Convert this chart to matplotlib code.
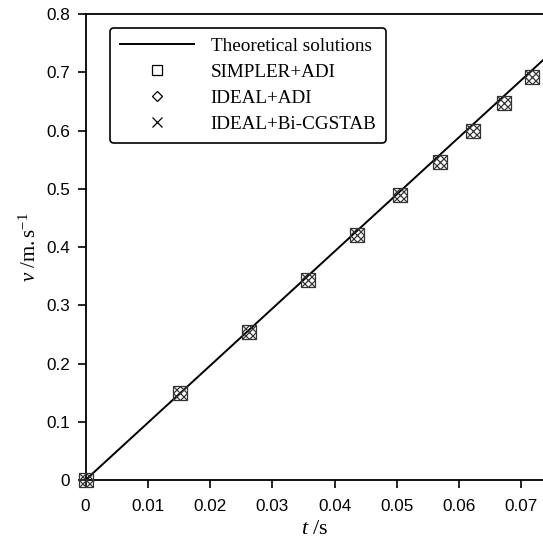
import numpy as np
import matplotlib
matplotlib.use('Agg')
import matplotlib.pyplot as plt
from matplotlib.lines import Line2D

plt.rc('font', family='Liberation Sans', size=12.3)
plt.rc('mathtext', fontset='custom', rm='Liberation Serif',
       it='Liberation Serif:italic')

# Solución teórica (caída libre, v = g t) y resultados numéricos
t_teo = [0.0, 0.08]
v_teo = [0.0, 0.785]

t_num = [0.0, 0.0152, 0.0262, 0.0357, 0.0436, 0.0506, 0.0570, 0.0623, 0.0672, 0.0717]
v_num = [0.0, 0.149, 0.254, 0.344, 0.421, 0.489, 0.547, 0.600, 0.648, 0.693]

etiquetas = ['Theoretical solutions', 'SIMPLER+ADI', 'IDEAL+ADI', 'IDEAL+Bi-CGSTAB']
xticks = [0, 0.01, 0.02, 0.03, 0.04, 0.05, 0.06, 0.07]
yticks = [0, 0.1, 0.2, 0.3, 0.4, 0.5, 0.6, 0.7, 0.8]

fig = plt.figure(figsize=(5.43, 5.45), dpi=100)
ax = fig.add_axes([0.1575, 0.1193, 1.0 - 0.1575, 0.9738 - 0.1193])

ax.plot(t_teo, v_teo, color='k', lw=1.4, zorder=2)

ms = 10.5
ec = '#333333'
ax.plot(t_num, v_num, ls='', marker='s', ms=ms, mfc='none', mec=ec, mew=0.9, clip_on=False, zorder=3)
ax.plot(t_num, v_num, ls='', marker='D', ms=ms / np.sqrt(2), mfc='none', mec=ec, mew=0.9, clip_on=False, zorder=3)
ax.plot(t_num, v_num, ls='', marker='x', ms=ms, mfc='none', mec=ec, mew=0.9, clip_on=False, zorder=3)

ax.set_xlim(0, (543 - 85.5) / 6225)
ax.set_ylim(0, 0.8)
ax.set_xticks(xticks)
ax.set_xticklabels(['0' if x == 0 else f'{x:g}' for x in xticks])
ax.set_yticks(yticks)
ax.set_yticklabels(['0' if y == 0 else f'{y:g}' for y in yticks])
ax.tick_params(direction='out', length=6, width=1.2)
ax.tick_params(axis='x', pad=7.5)
ax.tick_params(axis='y', pad=5)
ax.spines['right'].set_visible(False)
for s in ['left', 'bottom', 'top']:
    ax.spines[s].set_linewidth(1.3)

ax.set_xlabel(r'$t\ /\mathrm{s}$', fontsize=16, labelpad=3)
ax.set_ylabel(r'$v\ /\mathrm{m.s}^{\mathrm{-1}}$', fontsize=15, labelpad=5)

handles = [Line2D([], [], color='k', lw=1.4),
           Line2D([], [], ls='', marker='s', ms=7.2, mfc='none', mec='k', mew=0.9),
           Line2D([], [], ls='', marker='D', ms=5.2, mfc='none', mec='k', mew=0.9),
           Line2D([], [], ls='', marker='x', ms=7.2, mfc='none', mec='k', mew=0.9)]
leg = ax.legend(handles, etiquetas, loc='upper left', bbox_to_anchor=(0.0536, 0.9706),
                borderaxespad=0, prop={'family': 'Liberation Serif', 'size': 13.8},
                handlelength=3.9, handletextpad=0.85, labelspacing=0.45,
                borderpad=0.5, fancybox=True, framealpha=1, edgecolor='k')
leg.get_frame().set_linewidth(1.2)

plt.savefig('out.png', dpi=100)
